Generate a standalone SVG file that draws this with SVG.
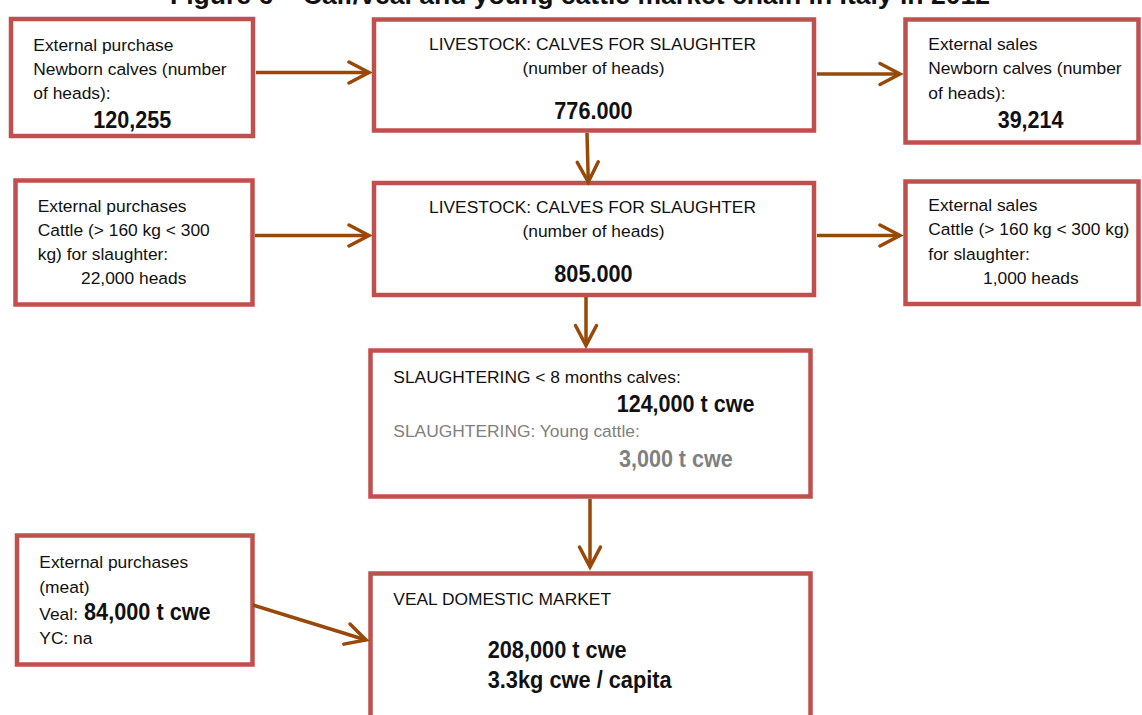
<svg xmlns="http://www.w3.org/2000/svg" width="1142" height="715" viewBox="0 0 1142 715">
  <style>
    .box { fill: #ffffff; stroke: #C0504D; stroke-width: 4.5; }
    .t { font-family: "Liberation Sans", Arial, sans-serif; font-size: 17.4px; fill: #111111; }
    .b { font-family: "Liberation Sans", Arial, sans-serif; font-size: 24.5px; font-weight: bold; fill: #111111; }
    .mid { text-anchor: middle; }
    .grey { fill: #808080; }
    .title { font-family: "Liberation Sans", Arial, sans-serif; font-size: 25px; font-weight: bold; fill: #111111; }
    .arrow { fill: none; stroke: #984807; stroke-width: 3.5; marker-end: url(#chev); }
  </style>
  <defs>
    <!-- open chevron arrowhead -->
    <marker id="chev" markerUnits="userSpaceOnUse" markerWidth="30" markerHeight="28" refX="23" refY="13" orient="auto">
      <path d="M3,2.5 L23,13 L3,23.5" fill="none" stroke="#984807" stroke-width="3.5" stroke-linecap="round" stroke-linejoin="miter"/>
    </marker>
  </defs>

  <rect width="1142" height="715" fill="#ffffff"/>

  <text class="title" x="170" y="4" textLength="820" lengthAdjust="spacingAndGlyphs">Figure 6 – Calf/veal and young cattle market chain in Italy in 2012</text>

  <g id="ext-purchase-newborn">
    <rect class="box" x="11" y="19" width="242" height="117"/>
    <text class="t" x="33.3" y="50.5">External purchase</text>
    <text class="t" x="33.3" y="75">Newborn calves (number</text>
    <text class="t" x="33.3" y="99">of heads):</text>
    <text class="b" x="93.3" y="128.3" textLength="78" lengthAdjust="spacingAndGlyphs">120,255</text>
  </g>

  <g id="livestock-calves-1">
    <rect class="box" x="374" y="19.5" width="440" height="111"/>
    <text class="t mid" x="592.5" y="50">LIVESTOCK: CALVES FOR SLAUGHTER</text>
    <text class="t mid" x="593.5" y="74">(number of heads)</text>
    <text class="b" x="554.3" y="119.3" textLength="78.3" lengthAdjust="spacingAndGlyphs">776.000</text>
  </g>

  <g id="ext-sales-newborn">
    <rect class="box" x="905.5" y="19.5" width="233" height="123"/>
    <text class="t" x="928.3" y="50">External sales</text>
    <text class="t" x="928.3" y="74.3">Newborn calves (number</text>
    <text class="t" x="928.3" y="99">of heads):</text>
    <text class="b" x="997.7" y="128.3" textLength="65.7" lengthAdjust="spacingAndGlyphs">39,214</text>
  </g>

  <g id="ext-purchases-cattle">
    <rect class="box" x="15.5" y="180.5" width="237" height="124"/>
    <text class="t" x="37.7" y="211.7">External purchases</text>
    <text class="t" x="37.7" y="236">Cattle (&gt; 160 kg &lt; 300</text>
    <text class="t" x="37.7" y="260">kg) for slaughter:</text>
    <text class="t" x="81" y="284.3">22,000 heads</text>
  </g>

  <g id="livestock-calves-2">
    <rect class="box" x="374" y="183" width="440" height="112"/>
    <text class="t mid" x="592.5" y="212.7">LIVESTOCK: CALVES FOR SLAUGHTER</text>
    <text class="t mid" x="593.5" y="236.7">(number of heads)</text>
    <text class="b" x="554.3" y="281.7" textLength="78.3" lengthAdjust="spacingAndGlyphs">805.000</text>
  </g>

  <g id="ext-sales-cattle">
    <rect class="box" x="905.5" y="181.5" width="233" height="122.5"/>
    <text class="t" x="928.3" y="211">External sales</text>
    <text class="t" x="928.3" y="235.3">Cattle (&gt; 160 kg &lt; 300 kg)</text>
    <text class="t" x="928.3" y="260">for slaughter:</text>
    <text class="t" x="983" y="284.3">1,000 heads</text>
  </g>

  <g id="slaughtering">
    <rect class="box" x="370.5" y="350.5" width="440" height="146"/>
    <text class="t" x="393.3" y="382.7">SLAUGHTERING &lt; 8 months calves:</text>
    <text class="b" x="616.7" y="412.3" textLength="137.7" lengthAdjust="spacingAndGlyphs">124,000 t cwe</text>
    <text class="t grey" x="393.3" y="437.3">SLAUGHTERING: Young cattle:</text>
    <text class="b grey" x="619" y="466.7" textLength="113.7" lengthAdjust="spacingAndGlyphs">3,000 t cwe</text>
  </g>

  <g id="ext-purchases-meat">
    <rect class="box" x="17" y="535.5" width="235.5" height="129"/>
    <text class="t" x="39.3" y="568.3">External purchases</text>
    <text class="t" x="39.3" y="592.7">(meat)</text>
    <text class="t" x="39.3" y="620">Veal:</text>
    <text class="b" x="84" y="620" textLength="126.7" lengthAdjust="spacingAndGlyphs">84,000 t cwe</text>
    <text class="t" x="39.3" y="644">YC: na</text>
  </g>

  <g id="veal-domestic-market">
    <rect class="box" x="370.5" y="573.5" width="440" height="170"/>
    <text class="t" x="393.3" y="605">VEAL DOMESTIC MARKET</text>
    <text class="b" x="487.7" y="658.3" textLength="139" lengthAdjust="spacingAndGlyphs">208,000 t cwe</text>
    <text class="b" x="487.7" y="688.3" textLength="184" lengthAdjust="spacingAndGlyphs">3.3kg cwe / capita</text>
  </g>

  <g id="connectors">
    <path class="arrow" d="M256,72.5 L369,72.5"/>
    <path class="arrow" d="M817,74 L900,74"/>
    <path class="arrow" d="M587,133 L588.3,182"/>
    <path class="arrow" d="M255,235.5 L369,235.5"/>
    <path class="arrow" d="M817,235.5 L900,235.5"/>
    <path class="arrow" d="M586,297 L586,345.5"/>
    <path class="arrow" d="M590,499 L590,567"/>
    <path class="arrow" d="M253,605 L366,640"/>
  </g>
</svg>
